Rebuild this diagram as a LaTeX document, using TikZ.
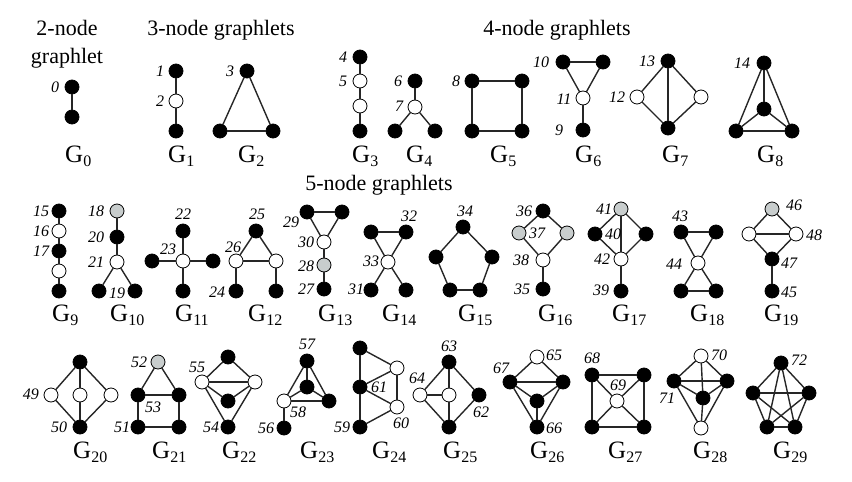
\documentclass[tikz,border=0pt]{standalone}
\usepackage{fontspec}
\setmainfont{Liberation Serif}
\usepackage{tikz}
\usetikzlibrary{positioning}

\definecolor{orbgray}{RGB}{200,205,205}
\newcommand\gsub[1]{G\raisebox{-.32ex}{\fontsize{16}{16}\selectfont #1}}

\begin{document}
\begin{tikzpicture}[x=1pt,y=-1pt,line cap=round,
  vert/.style={circle,draw=black,line width=.8pt,minimum size=14pt,inner sep=0pt},
  bn/.style={vert,fill=black},
  wn/.style={vert,fill=white},
  gn/.style={vert,fill=orbgray},
  edge/.style={line width=1.4pt,draw=black!85},
  orb/.style={font=\fontsize{16}{16}\selectfont\itshape,inner sep=0pt},
  gname/.style={font=\fontsize{25}{25}\selectfont,anchor=west,inner sep=0pt},
  head/.style={font=\fontsize{22}{28}\selectfont,align=center,inner sep=0pt}]
  \useasboundingbox (0,0) rectangle (852,482);
  % headings
  \node[head] (h2) at (67,44) {2-node\\graphlet};
  \node[head] (h3) at (221,30) {3-node graphlets};
  \node[head] (h4) at (557,30) {4-node graphlets};
  \node[head] (h5) at (379,185) {5-node graphlets};
  % 2-, 3- and 4-node graphlets
  \foreach \n/\s/\p in {g0a/bn/{72,87},g0b/bn/{72,117},
    g1a/bn/{176,71},g1b/wn/{176,101},g1c/bn/{176,131},
    g2a/bn/{247,71},g2b/bn/{220,131},g2c/bn/{273,131},
    g3a/bn/{360,57},g3b/wn/{360,81},g3c/wn/{360,106},g3d/bn/{360,131},
    g4a/bn/{415,81},g4b/wn/{415,107},g4c/bn/{395,131},g4d/bn/{435,131},
    g5a/bn/{472,81},g5b/bn/{522,81},g5c/bn/{522,131},g5d/bn/{472,131},
    g6a/bn/{563,62},g6b/bn/{603,62},g6c/wn/{583,98},g6d/bn/{583,130},
    g7a/bn/{668,61},g7b/wn/{637,97},g7c/wn/{701,97},g7d/bn/{668,128},
    g8a/bn/{764,63},g8b/bn/{764,109},g8c/bn/{736,131},g8d/bn/{792,131}}
    \node[\s] (\n) at (\p) {};
  % 5-node graphlets, middle row
  \foreach \n/\s/\p in {g9a/bn/{59,211},g9b/wn/{59,231},g9c/bn/{59,251},g9d/wn/{59,271},g9e/bn/{59,291},
    g10a/gn/{117,211},g10b/bn/{117,237},g10c/wn/{117,262},g10d/bn/{99,291},g10e/bn/{135,291},
    g11a/bn/{183,231},g11b/wn/{183,261},g11c/bn/{152,261},g11d/bn/{213,261},g11e/bn/{183,291},
    g12a/bn/{256,231},g12b/wn/{236,261},g12c/wn/{276,261},g12d/bn/{236,291},g12e/bn/{276,291},
    g13a/bn/{307,212},g13b/bn/{342,212},g13c/wn/{324,242},g13d/gn/{324,265},g13e/bn/{324,289},
    g14a/bn/{371,232},g14b/bn/{406,232},g14c/wn/{388,262},g14d/bn/{371,290},g14e/bn/{406,290},
    g15a/bn/{463,227},g15b/bn/{436,257},g15c/bn/{492,257},g15d/bn/{450,290},g15e/bn/{480,290},
    g16a/bn/{543,211},g16b/gn/{519,233},g16c/gn/{567,233},g16d/wn/{543,260},g16e/bn/{543,289},
    g17a/gn/{621,209},g17b/bn/{595,234},g17c/bn/{646,234},g17d/wn/{621,259},g17e/bn/{621,291},
    g18a/bn/{681,232},g18b/bn/{716,232},g18c/wn/{698,263},g18d/bn/{681,291},g18e/bn/{716,291},
    g19a/gn/{772,209},g19b/wn/{749,234},g19c/wn/{796,234},g19d/bn/{772,259},g19e/bn/{772,291}}
    \node[\s] (\n) at (\p) {};
  % 5-node graphlets, bottom row
  \foreach \n/\s/\p in {g20a/bn/{80,362},g20b/wn/{51,395},g20c/wn/{80,395},g20d/wn/{111,395},g20e/bn/{80,427},
    g21a/gn/{158,362},g21b/bn/{138,395},g21c/bn/{179,395},g21d/bn/{138,427},g21e/bn/{179,427},
    g22a/bn/{228,357},g22b/wn/{202,382},g22c/wn/{255,382},g22d/bn/{228,401},g22e/bn/{228,427},
    g23a/bn/{307,361},g23b/bn/{307,387},g23c/wn/{284,401},g23d/bn/{329,401},g23e/bn/{284,428},
    g24a/bn/{360,348},g24b/bn/{360,387},g24c/bn/{360,427},g24d/wn/{397,368},g24e/wn/{397,407},
    g25a/bn/{449,362},g25b/wn/{420,395},g25c/wn/{449,395},g25d/bn/{479,395},g25e/bn/{449,427},
    g26a/wn/{537,357},g26b/bn/{510,382},g26c/bn/{563,382},g26d/bn/{537,401},g26e/bn/{537,427},
    g27a/bn/{592,375},g27b/bn/{644,375},g27c/bn/{644,427},g27d/bn/{592,427},g27e/wn/{617,401},
    g28a/wn/{701,356},g28b/bn/{674,381},g28c/bn/{727,381},g28d/bn/{703,398},g28e/wn/{701,428},
    g29a/bn/{781,363},g29b/bn/{753,393},g29c/bn/{809,393},g29d/bn/{767,427},g29e/bn/{795,427}}
    \node[\s] (\n) at (\p) {};
  % edges
  \foreach \a/\b in {g0a/g0b,g1a/g1b,g1b/g1c,g2a/g2b,g2b/g2c,g2c/g2a,
    g3a/g3b,g3b/g3c,g3c/g3d,g4a/g4b,g4b/g4c,g4b/g4d,
    g5a/g5b,g5b/g5c,g5c/g5d,g5d/g5a,g6a/g6b,g6a/g6c,g6b/g6c,g6c/g6d,
    g7a/g7b,g7a/g7c,g7a/g7d,g7b/g7d,g7c/g7d,
    g8a/g8b,g8a/g8c,g8a/g8d,g8b/g8c,g8b/g8d,g8c/g8d}
    \draw[edge] (\a)--(\b);
  \foreach \a/\b in {g9a/g9b,g9b/g9c,g9c/g9d,g9d/g9e,
    g10a/g10b,g10b/g10c,g10c/g10d,g10c/g10e,
    g11b/g11a,g11b/g11c,g11b/g11d,g11b/g11e,
    g12a/g12b,g12a/g12c,g12b/g12c,g12b/g12d,g12c/g12e,
    g13a/g13b,g13a/g13c,g13b/g13c,g13c/g13d,g13d/g13e,
    g14a/g14b,g14a/g14c,g14b/g14c,g14c/g14d,g14c/g14e,
    g15a/g15b,g15a/g15c,g15b/g15d,g15c/g15e,g15d/g15e,
    g16a/g16b,g16a/g16c,g16b/g16d,g16c/g16d,g16d/g16e,
    g17a/g17b,g17a/g17c,g17a/g17d,g17b/g17d,g17c/g17d,g17d/g17e,
    g18a/g18b,g18a/g18c,g18b/g18c,g18c/g18d,g18c/g18e,g18d/g18e,
    g19a/g19b,g19a/g19c,g19b/g19c,g19b/g19d,g19c/g19d,g19d/g19e}
    \draw[edge] (\a)--(\b);
  \foreach \a/\b in {g20a/g20b,g20a/g20c,g20a/g20d,g20b/g20e,g20c/g20e,g20d/g20e,
    g21a/g21b,g21a/g21c,g21b/g21c,g21b/g21d,g21c/g21e,g21d/g21e,
    g22a/g22b,g22a/g22c,g22b/g22c,g22b/g22d,g22c/g22d,g22b/g22e,g22c/g22e,
    g23a/g23b,g23a/g23c,g23a/g23d,g23b/g23c,g23b/g23d,g23c/g23d,g23c/g23e,
    g24a/g24b,g24b/g24c,g24a/g24d,g24b/g24d,g24b/g24e,g24c/g24e,g24d/g24e,
    g25a/g25b,g25a/g25c,g25a/g25d,g25b/g25c,g25b/g25e,g25c/g25e,g25d/g25e,
    g26a/g26b,g26a/g26c,g26b/g26c,g26b/g26d,g26c/g26d,g26b/g26e,g26c/g26e,g26d/g26e,
    g27a/g27b,g27b/g27c,g27c/g27d,g27d/g27a,g27a/g27e,g27b/g27e,g27c/g27e,g27d/g27e,
    g28a/g28b,g28a/g28c,g28a/g28d,g28b/g28c,g28b/g28d,g28c/g28d,g28b/g28e,g28c/g28e,g28d/g28e,
    g29a/g29b,g29a/g29c,g29a/g29d,g29a/g29e,g29b/g29c,g29b/g29d,g29b/g29e,g29c/g29d,g29c/g29e,g29d/g29e}
    \draw[edge] (\a)--(\b);
  % orbit numbers
  \foreach \t/\p in {0/{55,87},1/{160,71},2/{160,101},3/{230,71},4/{343,57},5/{343,81},
    6/{398,81},7/{399,106},8/{456,81},9/{559,130},10/{541,62},11/{564,99},12/{617,97},
    13/{647,61},14/{742,63},15/{41,211},16/{41,231},17/{41,251},18/{96,211},19/{117,293},
    20/{96,237},21/{96,262},22/{183,214},23/{168,249},24/{217,292},25/{257,214},26/{233,247},
    27/{306,289},28/{306,266},29/{291,222},30/{306,242},31/{356,289},32/{409,216},33/{371,261},
    34/{465,211},35/{522,289},36/{524,211},37/{537,233},38/{521,260},39/{601,290},40/{613,234},
    41/{604,209},42/{602,259},43/{680,216},44/{674,264},45/{789,292},46/{794,205},47/{789,263},
    48/{814,235},49/{31,394},50/{59,427},51/{122,427},52/{139,362},53/{153,407},54/{211,427},
    55/{197,367},56/{266,428},57/{307,344},58/{298,412},59/{342,427},60/{401,423},61/{379,387},
    62/{481,412},63/{449,346},64/{417,378},65/{554,355},66/{554,428},67/{501,368},68/{592,358},
    69/{618,385},70/{719,355},71/{667,398},72/{799,360}}
    \node[orb] (o\t) at (\p) {\t};
  % graphlet names
  \foreach \i/\x/\y in {0/65/156,1/168/156,2/238/156,3/352/156,4/406/156,5/490/156,
    6/575/156,7/662/156,8/757/156,9/52/315,10/110/315,11/175/315,12/248/315,
    13/318/315,14/382/315,15/458/315,16/538/315,17/612/315,18/690/315,19/764/315,
    20/73/452,21/152/452,22/222/452,23/300/452,24/372/452,25/443/452,26/530/452,
    27/608/452,28/693/452,29/773/452}
    \node[gname] (G\i) at (\x,\y) {\gsub{\i}};
\end{tikzpicture}
\end{document}
